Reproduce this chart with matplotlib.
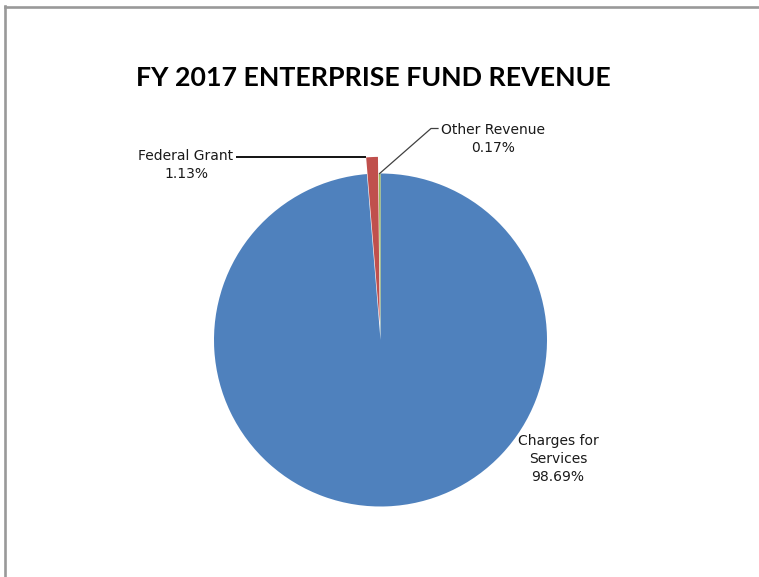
import numpy as np
import matplotlib
matplotlib.use("Agg")
import matplotlib.pyplot as plt
from matplotlib.lines import Line2D

# Revenue shares, in pie order (clockwise from 12 o'clock)
categories = ["Charges for\nServices", "Federal Grant", "Other Revenue"]
shares = [98.69, 1.13, 0.17]
colors = ["#4F81BD", "#C0504D", "#9BBB59"]
explode = [0.0, 0.1, 0.0]

W, H = 759, 577
CX, CY, R = 380.5, 340.0, 166.5  # pie centre and radius in pixels


def px(x, y):
    """pixel position (from top-left) -> data coords of the pie axes"""
    return (x - CX) / R, (CY - y) / R


fig = plt.figure(figsize=(W / 100, H / 100), dpi=100)
fig.patch.set_facecolor("white")
ax = fig.add_axes([0, 0, 1, 1])

wedges, _ = ax.pie(shares, colors=colors, explode=explode, startangle=90,
                   counterclock=False, radius=1.0,
                   wedgeprops=dict(linewidth=0))

ax.set_xlim((0 - CX) / R, (W - CX) / R)
ax.set_ylim((CY - H) / R, CY / R)
ax.set_aspect("auto")
ax.axis("off")

lbl_font = dict(family="DejaVu Sans", fontsize=10, color="#1a1a1a")


def label(i):
    return f"{categories[i]}\n{shares[i]:.2f}%"


# Charges for Services - label inside lower right, no leader
ax.text(*px(558, 459), label(0), ha="center", va="center",
        linespacing=1.35, **lbl_font)

# Federal Grant - leader runs to the outer corner of the exploded wedge
w = wedges[1]
tip = (w.center[0] + w.r * np.cos(np.radians(w.theta2)),
       w.center[1] + w.r * np.sin(np.radians(w.theta2)))
ax.text(*px(186, 165), label(1), ha="center", va="center",
        linespacing=1.35, **lbl_font)
lx, ly = px(236, 0)
ax.plot([lx, tip[0]], [tip[1], tip[1]], color="black", lw=1.3,
        solid_capstyle="butt")

# Other Revenue - angled leader from top of the thin wedge
w = wedges[2]
mid = np.radians((w.theta1 + w.theta2) / 2)
tip = (w.center[0] + w.r * np.cos(mid), w.center[1] + w.r * np.sin(mid))
ax.text(*px(493, 139), label(2), ha="center", va="center",
        linespacing=1.35, **lbl_font)
k1 = px(431, 128.5)
k2 = px(438, 128.5)
ax.plot([tip[0], k1[0], k2[0]], [tip[1], k1[1], k2[1]],
        color="#404040", lw=0.9)

fig.text(373.5 / W, 1 - 78 / H, "FY 2017 ENTERPRISE FUND REVENUE",
         ha="center", va="center", fontsize=19.3, fontweight="bold",
         family="Lato", color="black")

# grey frame on top and left edges
fig.add_artist(Line2D([4.5 / W, 1.0], [1 - 7 / H, 1 - 7 / H],
                      transform=fig.transFigure, color="#999999", lw=1.9))
fig.add_artist(Line2D([4.8 / W, 4.8 / W], [0, 1 - 6 / H],
                      transform=fig.transFigure, color="#999999", lw=1.9))

fig.savefig("out.png", dpi=100, facecolor="white")
